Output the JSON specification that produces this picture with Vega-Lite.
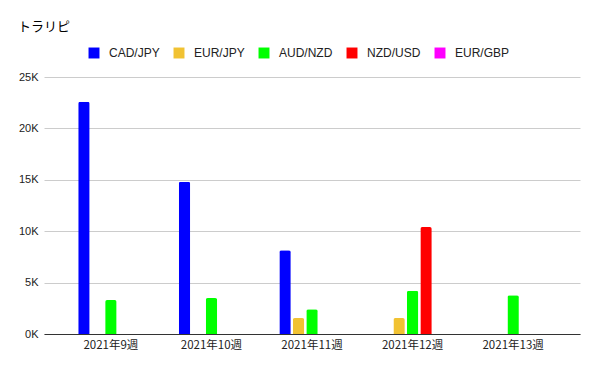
{
  "$schema": "https://vega.github.io/schema/vega-lite/v6.json",
  "width": 536,
  "height": 257,
  "autosize": "none",
  "padding": {"left": 44, "top": 77, "right": 20, "bottom": 37},
  "background": "white",
  "title": {"text": "トラリピ", "anchor": "start", "frame": "group", "dx": -26, "offset": 13, "fontSize": 13, "fontWeight": "normal", "font": "Noto Sans CJK JP", "color": "#000000"},
  "data": {"values": [
    {"week": "2021年9週", "pair": "CAD/JPY", "value": 22600},
    {"week": "2021年9週", "pair": "AUD/NZD", "value": 3300},
    {"week": "2021年10週", "pair": "CAD/JPY", "value": 14800},
    {"week": "2021年10週", "pair": "AUD/NZD", "value": 3500},
    {"week": "2021年11週", "pair": "CAD/JPY", "value": 8150},
    {"week": "2021年11週", "pair": "EUR/JPY", "value": 1550},
    {"week": "2021年11週", "pair": "AUD/NZD", "value": 2400},
    {"week": "2021年12週", "pair": "EUR/JPY", "value": 1550},
    {"week": "2021年12週", "pair": "AUD/NZD", "value": 4200},
    {"week": "2021年12週", "pair": "NZD/USD", "value": 10400},
    {"week": "2021年13週", "pair": "AUD/NZD", "value": 3780}
  ]},
  "mark": {"type": "bar", "cornerRadiusTopLeft": 2, "cornerRadiusTopRight": 2},
  "encoding": {
    "x": {"field": "week", "type": "nominal", "sort": null, "title": null,
      "scale": {"paddingInner": 0.35, "paddingOuter": 0.34},
      "axis": {"labelAngle": 0, "ticks": false, "domainColor": "#333333", "labelFont": "Noto Sans CJK JP", "labelFontSize": 11.5, "labelColor": "#222222", "labelPadding": 5}},
    "xOffset": {"field": "pair", "type": "nominal", "scale": {"domain": ["CAD/JPY", "EUR/JPY", "AUD/NZD", "NZD/USD", "EUR/GBP"], "paddingInner": 0.15}},
    "y": {"field": "value", "type": "quantitative", "title": null,
      "scale": {"domain": [0, 25000]},
      "axis": {"values": [0, 5000, 10000, 15000, 20000, 25000], "labelExpr": "datum.value / 1000 + 'K'", "domain": false, "ticks": false, "gridColor": "#cccccc", "labelFont": "Liberation Sans", "labelFontSize": 11, "labelColor": "#222222", "labelPadding": 6}},
    "color": {"field": "pair", "type": "nominal", "title": null,
      "scale": {"domain": ["CAD/JPY", "EUR/JPY", "AUD/NZD", "NZD/USD", "EUR/GBP"], "range": ["#0000ff", "#f1c232", "#00ff00", "#ff0000", "#ff00ff"]},
      "legend": {"orient": "none", "legendX": 44, "legendY": -30, "direction": "horizontal", "symbolType": "square", "symbolSize": 120, "symbolStrokeWidth": 0, "labelFont": "Liberation Sans", "labelFontSize": 12, "labelColor": "#222222", "labelOffset": 9, "columnPadding": 13}}
  },
  "config": {"view": {"stroke": null}}
}
